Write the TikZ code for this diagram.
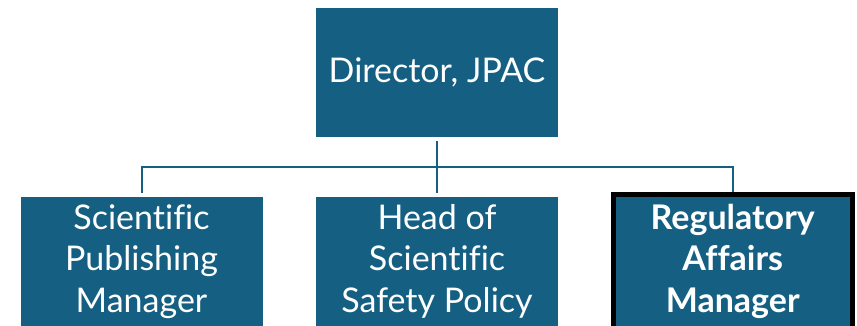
\documentclass[tikz,border=0pt]{standalone}
\usepackage{fontspec}
\setmainfont[Ligatures=NoCommon]{Lato}
\usepackage{tikz}
\usetikzlibrary{positioning,calc}
\definecolor{teal}{HTML}{156082}
\tikzset{
  orgbox/.style={fill=teal,text=white,minimum width=242pt,minimum height=129pt,
                 align=center,inner sep=0pt,outer sep=4pt,
                 font=\fontsize{34}{41.5}\selectfont},
  % bottom row runs off the page edge
  rowbox/.style={orgbox,anchor=north,minimum height=0pt,
                 text height=115pt,text depth=24pt},
  keybox/.style={rowbox,draw=black,line width=5pt,outer sep=2.5pt,
                 minimum width=239.5pt,text height=117.5pt,
                 font=\fontsize{34}{41.5}\selectfont\bfseries},
  orgline/.style={draw=teal,line width=2pt}
}

\begin{document}
\begin{tikzpicture}[x=1pt,y=-1pt]
  \useasboundingbox (0,0) rectangle (857,326);

  \node[orgbox] (dir) at (437,72.5) {Director, JPAC};

  \node[rowbox] (pub) at (141.5,193) {Scientific\\Publishing\\Manager};
  \node[rowbox] (safety) at (437,193) {Head of\\Scientific\\Safety Policy};
  \node[keybox] (reg) at (732.75,192) {Regulatory\\Affairs\\Manager};

  \coordinate (bus) at (437,167);
  \draw[orgline] (dir) -- (safety);
  \draw[orgline] (pub.north) |- (bus) -| (reg.north);
\end{tikzpicture}
\end{document}
